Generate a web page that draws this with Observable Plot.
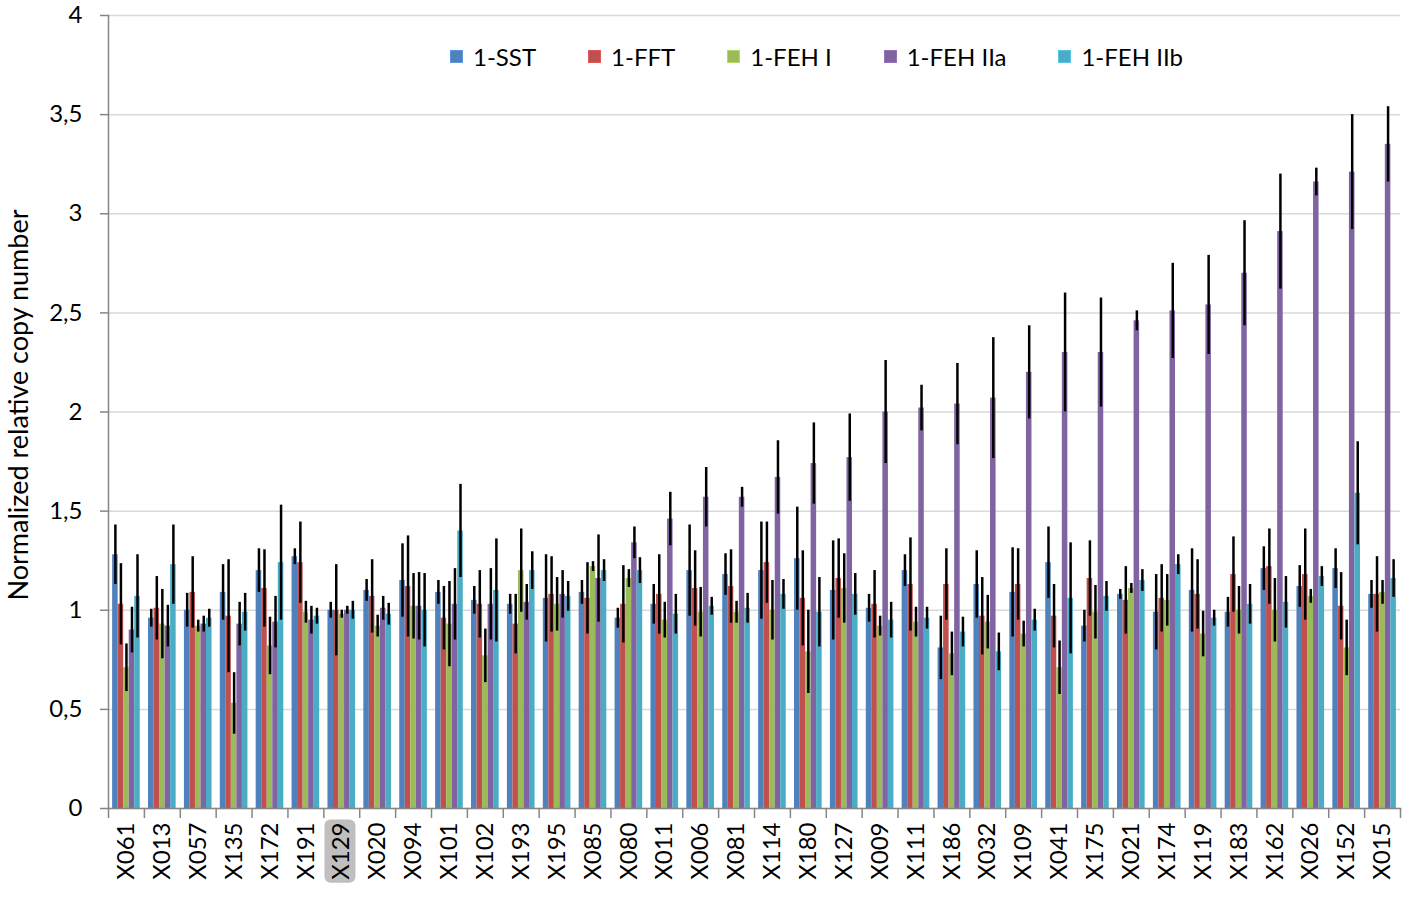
<!DOCTYPE html>
<html>
<head>
<meta charset="utf-8">
<script src="https://cdn.jsdelivr.net/npm/d3@7"></script>
<script src="https://cdn.jsdelivr.net/npm/@observablehq/plot@0.6"></script>
<style>
  body { margin: 0; background: #fff; font-family: Lato, "Liberation Sans", sans-serif; }
  #wrap { position: relative; width: 1406px; height: 899px; }
  #legend { position: absolute; top: 42px; left: 450px; display: flex; align-items: center; font-size: 24px; color: #000; }
  #legend .item { display: flex; align-items: center; margin-right: 52px; }
  #legend .sw { width: 13px; height: 13px; margin-right: 10px; box-sizing: border-box; }
</style>
</head>
<body>
<div id="wrap"><div id="legend"></div></div>
<script>
const categories = ["X061","X013","X057","X135","X172","X191","X129","X020","X094","X101","X102","X193","X195","X085","X080","X011","X006","X081","X114","X180","X127","X009","X111","X186","X032","X109","X041","X175","X021","X174","X119","X183","X162","X026","X152","X015"];
const series = ["1-SST","1-FFT","1-FEH I","1-FEH IIa","1-FEH IIb"];
const colors = ["#4F81BD","#C0504D","#9BBB59","#8064A2","#4BACC6"];

const sst     = [1.28,0.96,1.00,1.09,1.20,1.27,1.00,1.10,1.15,1.09,1.05,1.03,1.06,1.09,0.96,1.03,1.20,1.18,1.20,1.26,1.10,1.01,1.20,0.81,1.13,1.09,1.24,0.92,1.08,0.99,1.10,0.99,1.21,1.12,1.21,1.08];
const sstErr  = [0.15,0.045,0.085,0.14,0.11,0.04,0.04,0.055,0.185,0.06,0.07,0.05,0.22,0.06,0.05,0.10,0.23,0.105,0.245,0.26,0.25,0.07,0.08,0.16,0.17,0.225,0.18,0.08,0.025,0.19,0.21,0.075,0.11,0.105,0.10,0.07];
const fft     = [1.03,1.01,1.09,0.97,1.11,1.24,1.00,1.07,1.12,0.96,1.03,0.93,1.08,1.06,1.03,1.08,1.11,1.12,1.24,1.06,1.16,1.03,1.13,1.13,0.97,1.13,0.97,1.16,1.05,1.06,1.08,1.18,1.22,1.18,1.02,1.08];
const fftErr  = [0.205,0.16,0.18,0.285,0.195,0.205,0.23,0.185,0.255,0.16,0.17,0.15,0.19,0.18,0.195,0.20,0.19,0.185,0.205,0.24,0.20,0.17,0.235,0.18,0.195,0.18,0.16,0.19,0.17,0.17,0.175,0.19,0.19,0.23,0.17,0.19];
const fehI    = [0.71,0.93,0.92,0.53,0.82,0.99,0.98,0.92,1.02,0.93,0.77,1.20,1.03,1.22,1.16,0.95,0.99,0.99,1.00,0.79,1.11,0.92,0.94,0.78,0.94,0.88,0.71,0.99,1.11,1.05,0.88,1.00,1.00,1.07,0.81,1.09];
const fehIErr = [0.12,0.175,0.03,0.155,0.145,0.055,0.02,0.055,0.165,0.215,0.135,0.21,0.135,0.025,0.045,0.09,0.125,0.055,0.15,0.21,0.175,0.05,0.075,0.11,0.135,0.065,0.135,0.135,0.025,0.13,0.115,0.12,0.16,0.035,0.14,0.06];
const fehIIa  = [0.90,0.92,0.93,0.93,0.94,0.95,1.00,1.01,1.02,1.03,1.03,1.04,1.08,1.16,1.34,1.46,1.57,1.57,1.67,1.74,1.77,2.00,2.02,2.04,2.07,2.20,2.30,2.30,2.46,2.51,2.54,2.70,2.91,3.16,3.21,3.35];
const fehIIaErr = [0.115,0.105,0.04,0.11,0.13,0.07,0.02,0.06,0.17,0.18,0.18,0.09,0.12,0.22,0.08,0.135,0.15,0.05,0.185,0.205,0.22,0.26,0.115,0.205,0.305,0.235,0.30,0.275,0.05,0.24,0.25,0.265,0.29,0.07,0.29,0.19];
const fehIIb  = [1.07,1.23,0.96,0.99,1.24,0.97,1.00,0.98,1.00,1.40,1.10,1.20,1.07,1.20,1.20,0.98,1.02,1.01,1.08,0.99,1.08,0.95,0.96,0.89,0.79,0.95,1.06,1.07,1.15,1.23,0.96,1.03,1.04,1.17,1.59,1.16];
const fehIIbErr = [0.21,0.20,0.045,0.095,0.29,0.04,0.045,0.055,0.185,0.235,0.26,0.095,0.075,0.055,0.065,0.10,0.045,0.075,0.075,0.175,0.105,0.09,0.055,0.075,0.095,0.055,0.28,0.075,0.055,0.05,0.04,0.10,0.13,0.05,0.26,0.095];

const yTicks = [0,0.5,1,1.5,2,2.5,3,3.5,4];
const yTitle = "Normalized relative copy number";
const highlighted = "X129";

const values = [sst, fft, fehI, fehIIa, fehIIb];
const errors = [sstErr, fftErr, fehIErr, fehIIaErr, fehIIbErr];

const data = [];
categories.forEach((c, j) => series.forEach((s, i) => data.push({cat: c, series: s, i, value: values[i][j], err: errors[i][j]})));

const W = 1406, H = 899, ML = 108, MR = 6, MT = 15, MB = 91;
const PI = 0.23, PO = 0.115;
const band = d3.scaleBand().domain(categories).range([ML, W - MR]).paddingInner(PI).paddingOuter(PO);
const bw = band.bandwidth(), step = band.step(), sub = bw / series.length;
const axisColor = "#868686";

const marks = [
  Plot.gridY(yTicks, {stroke: "#d9d9d9", strokeOpacity: 1, strokeWidth: 1.5}),
  ...series.map((s, i) => Plot.barY(data.filter(d => d.i === i), {
    x: "cat", y: "value", fill: colors[i],
    insetLeft: i * sub, insetRight: (series.length - 1 - i) * sub
  })),
  ...series.map((s, i) => Plot.ruleX(data.filter(d => d.i === i), {
    x: "cat", y1: d => d.value - d.err, y2: d => d.value + d.err,
    dx: (i + 0.5) * sub - bw / 2, stroke: "#000", strokeWidth: 2.5
  })),
  Plot.frame({anchor: "left", stroke: axisColor, strokeWidth: 1.5}),
  Plot.frame({anchor: "bottom", stroke: axisColor, strokeWidth: 1.5}),
  Plot.axisY({
    ticks: yTicks, tickSize: 8, tickPadding: 18, stroke: axisColor, strokeWidth: 1.5,
    tickFormat: d => String(d).replace(".", ","), fontSize: 24, fill: "#000", label: null
  }),
  Plot.text([yTitle], {frameAnchor: "left", textAnchor: "middle", rotate: -90, dx: -89, dy: -7, text: d => d, fontSize: 27, fill: "#000", lineAnchor: "middle"}),
  Plot.axisX({tickSize: 10, tickFormat: () => "", dx: -step / 2, stroke: axisColor, strokeWidth: 1.5, label: null}),
  Plot.axisX({ticks: [categories[categories.length - 1]], tickSize: 10, tickFormat: () => "", dx: step / 2, stroke: axisColor, strokeWidth: 1.5, label: null}),
  Plot.axisX({tickSize: 0, tickRotate: -90, tickPadding: 14, fontSize: 24, fill: "#000", label: null})
];

const chart = Plot.plot({
  width: W, height: H,
  marginLeft: ML, marginRight: MR, marginTop: MT, marginBottom: MB,
  x: {domain: categories, paddingInner: PI, paddingOuter: PO, round: false},
  y: {domain: [0, 4]},
  style: {fontFamily: "Lato, 'Liberation Sans', sans-serif", fontSize: "24px", color: "#000", background: "#fff"},
  marks
});

const wrap = document.getElementById("wrap");
wrap.insertBefore(chart, wrap.firstChild);

// highlight X129 label
d3.select(chart).selectAll("text").each(function() {
  if (this.textContent === highlighted) {
    const b = this.getBBox();
    const pad = 3;
    const r = document.createElementNS("http://www.w3.org/2000/svg", "rect");
    r.setAttribute("x", b.x - pad);
    r.setAttribute("y", b.y - 1);
    r.setAttribute("width", b.width + 2 * pad);
    r.setAttribute("height", b.height + 2);
    r.setAttribute("rx", 6);
    r.setAttribute("fill", "#bfbfbf");
    const t = this.getAttribute("transform");
    if (t) r.setAttribute("transform", t);
    this.parentNode.insertBefore(r, this);
  }
});

const legend = d3.select("#legend");
series.forEach((s, i) => {
  const it = legend.append("div").attr("class", "item");
  it.append("div").attr("class", "sw").style("background", colors[i]).style("border", `1px solid ${d3.color(colors[i]).brighter(0.4)}`);
  it.append("span").text(s);
});
</script>
</body>
</html>
